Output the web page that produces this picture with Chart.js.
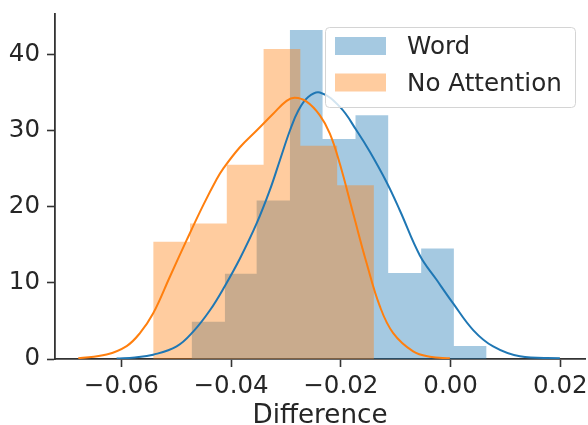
<!DOCTYPE html>
<html>
<head>
<meta charset="utf-8">
<script src="https://cdn.jsdelivr.net/npm/chart.js@4.4.1/dist/chart.umd.min.js"></script>
<style>
  html, body { margin: 0; padding: 0; background: #fff; }
  #wrap { width: 588px; height: 425px; position: relative; }
</style>
</head>
<body>
<div id="wrap"><canvas id="myChart"></canvas></div>
<script>
// histogram bins (density)
const wordEdges = [-0.0472, -0.04113, -0.03535, -0.02928, -0.02333, -0.01733, -0.01137, -0.00536, 0.0006, 0.00656];
const wordHeights = [4.9, 11.2, 20.8, 43.2, 28.9, 32.0, 11.3, 14.5, 1.7];
const noAttEdges = [-0.0542, -0.04749, -0.04079, -0.03408, -0.02738, -0.02067, -0.01397];
const noAttHeights = [15.4, 17.8, 25.5, 40.7, 28.0, 22.8];

// kde curves
const wordKdeX = [-0.06087, -0.05753, -0.0542, -0.04993, -0.04691, -0.04386, -0.04113, -0.03839, -0.03535, -0.03293,
  -0.03111, -0.02928, -0.02777, -0.02595, -0.02382, -0.02017, -0.01713, -0.01471, -0.01166, -0.00924,
  -0.0056, -0.00255, 0.00047, 0.00412, 0.00776, 0.01263, 0.01992];
const wordKdeY = [0.05, 0.2, 0.56, 1.65, 3.6, 6.4, 9.6, 13.2, 17.8, 22.2,
  26.1, 30.0, 32.6, 34.4, 35.0, 33.1, 30.0, 27.2, 23.2, 19.5,
  13.6, 10.4, 7.3, 3.8, 1.65, 0.35, 0.1];
const noAttKdeX = [-0.06786, -0.06269, -0.05904, -0.05662, -0.0542, -0.05116, -0.04811, -0.04508, -0.04264, -0.04144,
  -0.0384, -0.03535, -0.03233, -0.02989, -0.02837, -0.02624, -0.02382, -0.022, -0.02017, -0.01775,
  -0.01531, -0.01288, -0.01046, -0.00682, -0.00377, -0.00013];
const noAttKdeY = [0.1, 0.6, 1.7, 3.4, 6.0, 10.8, 15.6, 20.2, 23.6, 25.0,
  27.8, 30.0, 32.2, 33.9, 34.3, 33.8, 32.0, 29.6, 25.6, 19.1,
  12.6, 6.9, 3.4, 1.0, 0.3, 0.1];

const xTicks = [-0.06, -0.04, -0.02, 0.0, 0.02];
const yTicks = [0, 10, 20, 30, 40];
const seriesNames = ['Word', 'No Attention'];

const blue = '#1f77b4', orange = '#ff7f0e';
const blueFill = 'rgba(31,119,180,0.4)', orangeFill = 'rgba(255,127,14,0.4)';
const ink = '#262626';

Chart.defaults.font.family = '"DejaVu Sans", sans-serif';
Chart.defaults.color = ink;

let stepData = function(edges, heights) {
    return edges.map((e, i) => ({ x: e, y: heights[Math.min(i, heights.length - 1)] }));
};
let curve = (xs, ys) => xs.map((x, i) => ({ x: x, y: ys[i] }));

// matplotlib-like legend box inside the axes
const boxLegend = {
    id: 'boxLegend',
    afterDatasetsDraw(chart) {
        const c = chart.ctx;
        const x = 325.5, y = 27.5, w = 250, h = 80, r = 4;
        c.save();
        c.beginPath();
        c.moveTo(x + r, y);
        c.arcTo(x + w, y, x + w, y + h, r);
        c.arcTo(x + w, y + h, x, y + h, r);
        c.arcTo(x, y + h, x, y, r);
        c.arcTo(x, y, x + w, y, r);
        c.closePath();
        c.fillStyle = 'rgba(255,255,255,0.8)';
        c.fill();
        c.strokeStyle = '#d4d4d4';
        c.lineWidth = 1;
        c.stroke();
        const hist = chart.data.datasets.filter(d => d.isHist);
        c.font = '24.6px "DejaVu Sans"';
        c.textBaseline = 'middle';
        hist.forEach((d, i) => {
            const rowY = 46 + i * 36.5;
            c.fillStyle = d.backgroundColor;
            c.fillRect(335, rowY - 9, 51, 18);
            c.fillStyle = ink;
            c.fillText(d.label, 407, rowY + 2);
        });
        c.restore();
    }
};

const ctx = document.getElementById('myChart');

let chart = new Chart(ctx, {
    type: 'line',
    data: {
        datasets: [
            { label: seriesNames[0], isHist: true, data: stepData(wordEdges, wordHeights), stepped: 'before',
              fill: 'origin', backgroundColor: blueFill, borderWidth: 0, pointRadius: 0, order: 4 },
            { label: seriesNames[0] + ' kde', data: curve(wordKdeX, wordKdeY), borderColor: blue, borderWidth: 2,
              fill: false, pointRadius: 0, tension: 0.4, order: 2 },
            { label: seriesNames[1], isHist: true, data: stepData(noAttEdges, noAttHeights), stepped: 'before',
              fill: 'origin', backgroundColor: orangeFill, borderWidth: 0, pointRadius: 0, order: 3 },
            { label: seriesNames[1] + ' kde', data: curve(noAttKdeX, noAttKdeY), borderColor: orange, borderWidth: 2,
              fill: false, pointRadius: 0, tension: 0.4, order: 1 }
        ]
    },
    options: {
        responsive: true,
        maintainAspectRatio: false,
        devicePixelRatio: 1,
        animation: false,
        layout: { padding: { top: 14, right: 3, left: 0, bottom: 0 } },
        plugins: {
            legend: { display: false },
            tooltip: { enabled: false }
        },
        scales: {
            x: {
                type: 'linear',
                min: -0.0721,
                max: 0.0245,
                afterBuildTicks: s => { s.ticks = xTicks.map(v => ({ value: v })); },
                afterFit: s => { s.height = 66; s.paddingLeft = 0; s.paddingRight = 0; },
                ticks: {
                    font: { size: 24.5 },
                    color: ink,
                    padding: 5,
                    maxRotation: 0,
                    autoSkip: false,
                    callback: v => Math.abs(v) < 1e-9 ? '0.00' : (v < 0 ? '\u2212' : '') + Math.abs(v).toFixed(2)
                },
                grid: { drawOnChartArea: false, drawTicks: true, tickLength: 8, tickWidth: 1.6, tickColor: '#333' },
                border: { display: true, color: '#333', width: 1.8 },
                title: {
                    display: true,
                    text: 'Difference',
                    font: { size: 26.2, lineHeight: 1 },
                    color: ink,
                    padding: { top: 0, bottom: -4 }
                }
            },
            y: {
                min: 0,
                max: 45.3,
                afterBuildTicks: s => { s.ticks = yTicks.map(v => ({ value: v })); },
                afterFit: s => { s.width = 55; s.paddingTop = 0; s.paddingBottom = 0; },
                ticks: { font: { size: 24.5 }, color: ink, padding: 7 },
                grid: { drawOnChartArea: false, drawTicks: true, tickLength: 8, tickWidth: 1.6, tickColor: '#333' },
                border: { display: true, color: '#333', width: 1.8 }
            }
        }
    },
    plugins: [boxLegend]
});
</script>
</body>
</html>
